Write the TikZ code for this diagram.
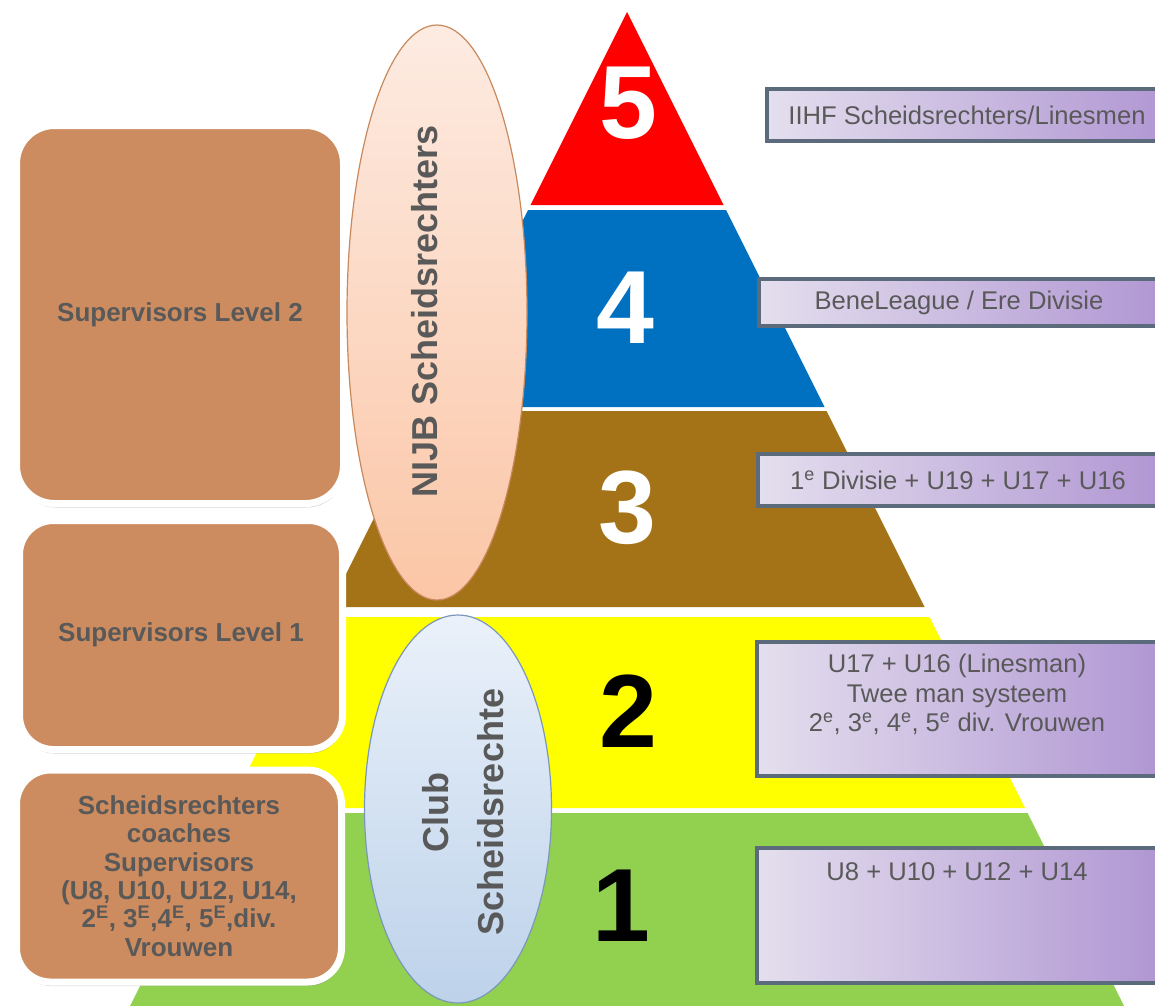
\documentclass[tikz,border=0pt]{standalone}
\usepackage{fontspec}
\setmainfont{Liberation Sans}
\usetikzlibrary{positioning,shapes.geometric,shadows}

\definecolor{lvlfive}{HTML}{FF0000}
\definecolor{lvlfour}{HTML}{0070C0}
\definecolor{lvlthree}{HTML}{A47318}
\definecolor{lvltwo}{HTML}{FFFF00}
\definecolor{lvlone}{HTML}{92D050}
\definecolor{supfill}{HTML}{CD8C5F}
\definecolor{txtgray}{HTML}{595959}
\definecolor{divleft}{HTML}{E4DFEE}
\definecolor{divright}{HTML}{B197D3}
\definecolor{divborder}{HTML}{5B6B7B}
\definecolor{nijbtop}{HTML}{FDEBE2}
\definecolor{nijbbot}{HTML}{FBC6A6}
\definecolor{nijbline}{HTML}{C8895C}
\definecolor{clubtop}{HTML}{EAF1FA}
\definecolor{clubbot}{HTML}{BDD2EA}
\definecolor{clubline}{HTML}{7B97BB}

% one slab of the pyramid: top y, bottom y, colour
\newcommand{\pyrlayer}[3]{%
    \fill[#3] ({627-0.5*(#1-12)},#1) -- ({627+0.5*(#1-12)},#1)
        -- ({627+0.5*(#2-12)},#2) -- ({627-0.5*(#2-12)},#2) -- cycle;}

\tikzset{
    lvlnum/.style={inner sep=0pt, font=\fontsize{104}{104}\selectfont\bfseries},
    supbox/.style={draw=white, line width=7pt, fill=supfill, rounded corners=38pt,
        text=txtgray, font=\fontsize{26}{28.4}\selectfont\bfseries, align=center,
        inner sep=0pt, drop shadow={shadow xshift=1pt, shadow yshift=-4pt, opacity=.35}},
    divbox/.style={draw=divborder, line width=4.5pt, left color=divleft,
        right color=divright, minimum width=400pt, inner sep=0pt},
    divtext/.style={text=txtgray, font=\fontsize{25.6}{29.5}\selectfont,
        align=center, inner sep=0pt},
    refoval/.style={ellipse, inner sep=0pt, line width=1.2pt},
    ovaltext/.style={rotate=90, text=txtgray, font=\fontsize{36}{55}\selectfont\bfseries,
        align=center, inner sep=0pt}
}

\begin{document}
\begin{tikzpicture}[x=1pt, y=-1pt]
    \clip (0,0) rectangle (1155,1005);
    \fill[white] (0,0) rectangle (1155,1005);

    % pyramid
    \pyrlayer{12}{205}{lvlfive}
    \pyrlayer{210}{407}{lvlfour}
    \pyrlayer{411}{607}{lvlthree}
    \pyrlayer{617}{808}{lvltwo}
    \pyrlayer{813}{1012}{lvlone}

    \node[lvlnum, text=white] (n5) at (628,103) {5};
    \node[lvlnum, text=white] (n4) at (625,308) {4};
    \node[lvlnum, text=white] (n3) at (627,508) {3};
    \node[lvlnum] (n2) at (628,711) {2};
    \node[lvlnum] (n1) at (621,906) {1};

    % divisions on the right
    \node[divbox, minimum height=52pt] (div5) at (967,115) {};
    \node[divtext] (div5txt) at (div5) {IIHF Scheidsrechters/Linesmen};

    \node[divbox, minimum height=47pt] (div4) at (959,302.5) {};
    \node[divtext] (div4txt) at (div4) {BeneLeague / Ere Divisie};

    \node[divbox, minimum height=52pt] (div3) at (958,480) {};
    \node[divtext] (div3txt) at (div3) {1\textsuperscript{e} Divisie + U19 + U17 + U16};

    \node[divbox, minimum height=134pt] (div2) at (957,709) {};
    \node[divtext, below=14pt of div2.north] (div2txt) {U17 + U16 (Linesman)\\Twee man systeem\\
        2\textsuperscript{e}, 3\textsuperscript{e}, 4\textsuperscript{e}, 5\textsuperscript{e} div. Vrouwen};

    \node[divbox, minimum height=135pt] (div1) at (957,915.5) {};
    \node[divtext, below=17pt of div1.north] (div1txt) {U8 + U10 + U12 + U14};

    % supervisors on the left
    \node[supbox, minimum width=327pt, minimum height=378pt] (sup2) at (180,314.5)
        {Supervisors Level 2};
    \node[supbox, minimum width=323pt, minimum height=229pt, rounded corners=34pt] (sup1)
        at (181,635) {Supervisors Level 1};
    \node[supbox, minimum width=325pt, minimum height=212pt, rounded corners=34pt] (sup0)
        at (179,876) {Scheidsrechters\\coaches\\Supervisors\\(U8, U10, U12, U14,\\
        2\textsuperscript{E}, 3\textsuperscript{E},4\textsuperscript{E}, 5\textsuperscript{E},div.\\Vrouwen};

    % referee groups
    \node[refoval, draw=nijbline, top color=nijbtop, bottom color=nijbbot,
        minimum width=180pt, minimum height=575pt] (nijb) at (437,312.5) {};
    \node[ovaltext] (nijbtxt) at (425,311) {NIJB Scheidsrechters};

    \node[refoval, draw=clubline, top color=clubtop, bottom color=clubbot,
        minimum width=187pt, minimum height=388pt] (club) at (458,809) {};
    \node[ovaltext] (clubtxt) at (463,812) {Club\\Scheidsrechte};
\end{tikzpicture}
\end{document}
